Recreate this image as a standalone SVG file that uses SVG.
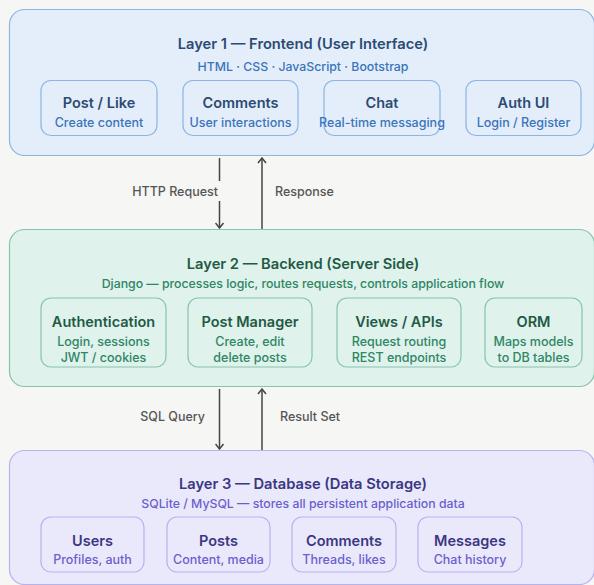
<svg xmlns="http://www.w3.org/2000/svg" width="594" height="585" viewBox="0 0 594 585">
  <style>
    text { font-family: Inter, "Noto Sans", "Liberation Sans", sans-serif; text-anchor: middle; }
    .ltitle { font-size: 14.7px; font-weight: 600; }
    .lsub { font-size: 12.3px; font-weight: 500; }
    .ntitle { font-size: 14.5px; font-weight: 600; }
    .nsub { font-size: 12.5px; font-weight: 500; }
    .clabel { font-size: 12.5px; font-weight: 500; fill: #555555; }
    .l1 .layer { fill: #e4eefa; stroke: #8db4e2; }
    .l1 .node { fill: #e4eefa; stroke: #8db4e2; }
    .l1 .ltitle, .l1 .ntitle { fill: #2c4b73; }
    .l1 .lsub, .l1 .nsub { fill: #3a74bb; }
    .l2 .layer { fill: #dff2ec; stroke: #86c4ac; }
    .l2 .node { fill: #dff2ec; stroke: #86c4ac; }
    .l2 .ltitle, .l2 .ntitle { fill: #1f5a45; }
    .l2 .lsub, .l2 .nsub { fill: #2e8664; }
    .l3 .layer { fill: #eae9fc; stroke: #b6b2ef; }
    .l3 .node { fill: #eae9fc; stroke: #b6b2ef; }
    .l3 .ltitle, .l3 .ntitle { fill: #3b3782; }
    .l3 .lsub, .l3 .nsub { fill: #6a5fce; }
    .layer { stroke-width: 1.2; }
    .node { stroke-width: 1.2; }
    .conn { stroke: #444444; stroke-width: 1.5; fill: none; }
  </style>
  <defs>
    <!-- open chevron head, drawn pointing along +x so orient="auto" follows the line -->
    <marker id="head" viewBox="0 0 10 10" refX="9" refY="5" markerWidth="10" markerHeight="10" markerUnits="userSpaceOnUse" orient="auto">
      <path d="M4,1 L9,5 L4,9" fill="none" stroke="#444444" stroke-width="1.5"/>
    </marker>
  </defs>

  <rect width="594" height="585" fill="#f6f6f4"/>

  <!-- Layer 1: frontend -->
  <g id="layer1" class="l1">
    <rect class="layer" x="9.5" y="9.5" width="585" height="146" rx="15"/>
    <text class="ltitle" x="303" y="49">Layer 1 — Frontend (User Interface)</text>
    <text class="lsub" x="303" y="71">HTML · CSS · JavaScript · Bootstrap</text>
    <g id="post-like">
      <rect class="node" x="41" y="80.5" width="116" height="55" rx="10"/>
      <text class="ntitle" x="99" y="108">Post / Like</text>
      <text class="nsub" x="99" y="127">Create content</text>
    </g>
    <g id="comments-ui">
      <rect class="node" x="183" y="80.5" width="115" height="55" rx="10"/>
      <text class="ntitle" x="240.5" y="108">Comments</text>
      <text class="nsub" x="240.5" y="127">User interactions</text>
    </g>
    <g id="chat">
      <rect class="node" x="324" y="80.5" width="116" height="55" rx="10"/>
      <text class="ntitle" x="382" y="108">Chat</text>
      <text class="nsub" x="382" y="127">Real-time messaging</text>
    </g>
    <g id="auth-ui">
      <rect class="node" x="466" y="80.5" width="115" height="55" rx="10"/>
      <text class="ntitle" x="523.5" y="108">Auth UI</text>
      <text class="nsub" x="523.5" y="127">Login / Register</text>
    </g>
  </g>

  <!-- Layer 2: backend -->
  <g id="layer2" class="l2">
    <rect class="layer" x="9.5" y="229.5" width="585" height="157" rx="15"/>
    <text class="ltitle" x="303" y="269">Layer 2 — Backend (Server Side)</text>
    <text class="lsub" x="303" y="288">Django — processes logic, routes requests, controls application flow</text>
    <g id="authentication">
      <rect class="node" x="41" y="298" width="125" height="69" rx="10"/>
      <text class="ntitle" x="103.5" y="327">Authentication</text>
      <text class="nsub" x="103.5" y="346">Login, sessions</text>
      <text class="nsub" x="103.5" y="362">JWT / cookies</text>
    </g>
    <g id="post-manager">
      <rect class="node" x="188" y="298" width="124" height="69" rx="10"/>
      <text class="ntitle" x="250" y="327">Post Manager</text>
      <text class="nsub" x="250" y="346">Create, edit</text>
      <text class="nsub" x="250" y="362">delete posts</text>
    </g>
    <g id="views-apis">
      <rect class="node" x="337" y="298" width="124" height="69" rx="10"/>
      <text class="ntitle" x="399" y="327">Views / APIs</text>
      <text class="nsub" x="399" y="346">Request routing</text>
      <text class="nsub" x="399" y="362">REST endpoints</text>
    </g>
    <g id="orm">
      <rect class="node" x="485" y="298" width="97" height="69" rx="10"/>
      <text class="ntitle" x="533.5" y="327">ORM</text>
      <text class="nsub" x="533.5" y="346">Maps models</text>
      <text class="nsub" x="533.5" y="362">to DB tables</text>
    </g>
  </g>

  <!-- Layer 3: database -->
  <g id="layer3" class="l3">
    <rect class="layer" x="9.5" y="450.5" width="585" height="134" rx="15"/>
    <text class="ltitle" x="303" y="489">Layer 3 — Database (Data Storage)</text>
    <text class="lsub" x="303" y="508">SQLite / MySQL — stores all persistent application data</text>
    <g id="users">
      <rect class="node" x="41" y="517" width="103" height="55" rx="10"/>
      <text class="ntitle" x="92.5" y="546">Users</text>
      <text class="nsub" x="92.5" y="564">Profiles, auth</text>
    </g>
    <g id="posts">
      <rect class="node" x="167" y="517" width="103" height="55" rx="10"/>
      <text class="ntitle" x="218.5" y="546">Posts</text>
      <text class="nsub" x="218.5" y="564">Content, media</text>
    </g>
    <g id="comments-db">
      <rect class="node" x="292" y="517" width="104" height="55" rx="10"/>
      <text class="ntitle" x="344" y="546">Comments</text>
      <text class="nsub" x="344" y="564">Threads, likes</text>
    </g>
    <g id="messages">
      <rect class="node" x="418" y="517" width="104" height="55" rx="10"/>
      <text class="ntitle" x="470" y="546">Messages</text>
      <text class="nsub" x="470" y="564">Chat history</text>
    </g>
  </g>

  <!-- Connectors between layers -->
  <g id="connectors">
    <line class="conn" x1="219.5" y1="158" x2="219.5" y2="181"/>
    <line class="conn" x1="219.5" y1="201" x2="219.5" y2="228" marker-end="url(#head)"/>
    <text class="clabel" x="218" y="196" style="text-anchor:end">HTTP Request</text>
    <line class="conn" x1="262" y1="229" x2="262" y2="158" marker-end="url(#head)"/>
    <text class="clabel" x="275" y="196" style="text-anchor:start">Response</text>

    <line class="conn" x1="219.5" y1="389" x2="219.5" y2="449" marker-end="url(#head)"/>
    <text class="clabel" x="205" y="421" style="text-anchor:end">SQL Query</text>
    <line class="conn" x1="262" y1="450" x2="262" y2="389" marker-end="url(#head)"/>
    <text class="clabel" x="280" y="421" style="text-anchor:start">Result Set</text>
  </g>
</svg>
